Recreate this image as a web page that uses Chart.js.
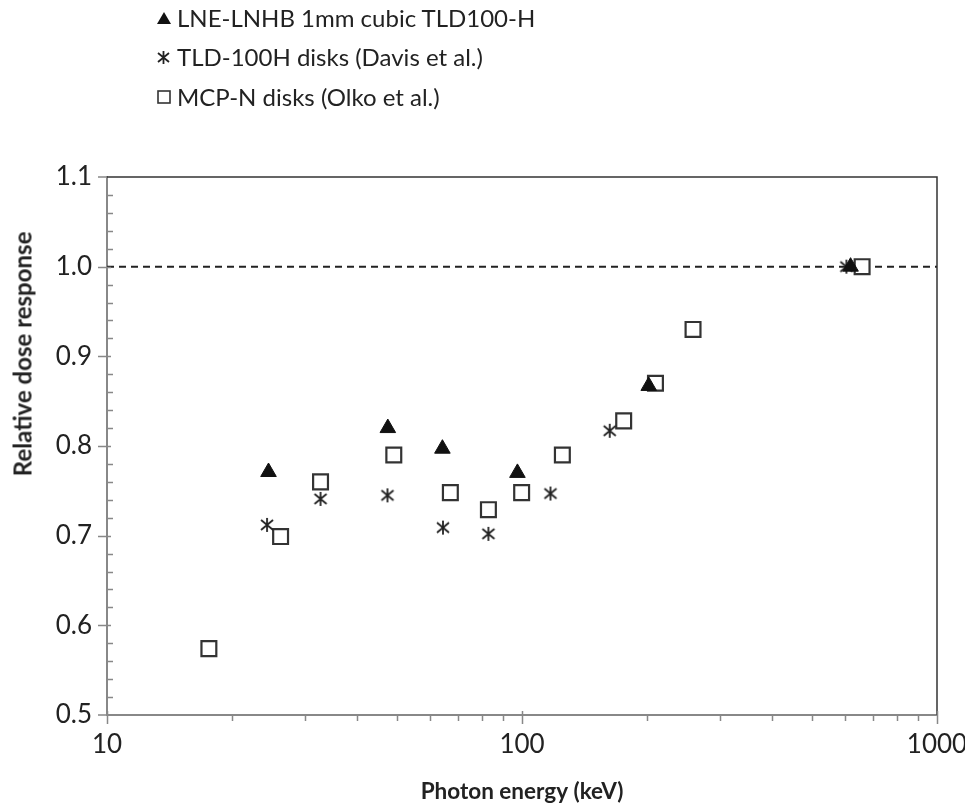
<!DOCTYPE html>
<html>
<head>
<meta charset="utf-8">
<script src="https://cdn.jsdelivr.net/npm/chart.js@4.4.1/dist/chart.umd.min.js"></script>
<style>
  body { margin: 0; background: #fff; }
  #wrap { position: relative; width: 965px; height: 809px; }
  #legend { position: absolute; left: 155px; top: 0; font-family: Lato, sans-serif; font-size: 24px; color: #222; }
  #legend div { position: absolute; white-space: nowrap; height: 28px; line-height: 28px; }
  #legend canvas { position: absolute; left: 0; top: 5px; }
  #legend span { position: absolute; left: 22px; top: 0; }
  #ytitle { position: absolute; left: 22px; top: 354px; width: 0; height: 0; }
  #ytitle span { position: absolute; transform: translate(-50%, -50%) rotate(-90deg); white-space: nowrap;
                 font-family: Lato, sans-serif; font-weight: bold; font-size: 24px; color: #222; }
</style>
</head>
<body>
<div id="wrap">
  <canvas id="dose-chart" width="965" height="809"></canvas>
  <div id="legend"></div>
  <div id="ytitle"><span></span></div>
</div>
<script>
// series (energy in keV, relative response)
let lneEnergy   = [24.5, 47.5, 64.3, 97.5, 202, 619];
let lneResponse = [0.771, 0.820, 0.797, 0.770, 0.867, 1.0];

let davisEnergy   = [24.3, 32.7, 47.4, 64.5, 83.0, 117.1, 162.7, 605];
let davisResponse = [0.712, 0.741, 0.745, 0.709, 0.702, 0.747, 0.817, 1.0];

let olkoEnergy   = [17.6, 26.2, 32.7, 49.1, 67.2, 83.0, 99.8, 125.1, 175.8, 209.7, 258.3, 660];
let olkoResponse = [0.574, 0.699, 0.760, 0.790, 0.748, 0.729, 0.748, 0.790, 0.828, 0.870, 0.930, 1.0];

let seriesNames = ['LNE-LNHB 1mm cubic TLD100-H', 'TLD-100H disks (Davis et al.)', 'MCP-N disks (Olko et al.)'];
let xTitle = 'Photon energy (keV)';
let yTitle = 'Relative dose response';

let xTicks = [10, 100, 1000];
let xMinor = [20, 30, 40, 50, 60, 70, 80, 90, 200, 300, 400, 500, 600, 700, 800, 900];
let yTicks = [0.5, 0.6, 0.7, 0.8, 0.9, 1.0, 1.1];
let refLevel = 1.0;

function pairs(xs, ys) {
	return xs.map(function(x, i) { return { x: x, y: ys[i] }; });
}

// excel style star marker: X plus vertical bar
function starMarker(size) {
	let c = document.createElement('canvas');
	c.width = size; c.height = size;
	let g = c.getContext('2d');
	let m = 2, e = size - 2;
	g.strokeStyle = '#222';
	g.lineWidth = 1.8;
	g.beginPath();
	g.moveTo(m, m + 1); g.lineTo(e, e - 1);
	g.moveTo(e, m + 1); g.lineTo(m, e - 1);
	g.moveTo(size / 2, m - 1); g.lineTo(size / 2, e + 1);
	g.stroke();
	return c;
}
let star = starMarker(16);

// minor ticks + frame
let axisDecor = {
	id: 'axisDecor',
	afterDraw: function(chart) {
		let ctx = chart.ctx;
		let xs = chart.scales.x, ys = chart.scales.y;
		let a = chart.chartArea;
		ctx.save();
		ctx.strokeStyle = '#333';
		ctx.lineWidth = 1.5;
		ctx.beginPath();
		ctx.moveTo(a.left, a.top); ctx.lineTo(a.right, a.top); ctx.lineTo(a.right, a.bottom);
		ctx.stroke();

		ctx.strokeStyle = '#888';
		ctx.lineWidth = 1.5;
		ctx.beginPath();
		for (let v = 0.52; v < 1.1; v += 0.02) {
			let y = Math.round(ys.getPixelForValue(v)) + 0.5;
			let isMajor = Math.abs(v * 10 - Math.round(v * 10)) < 1e-6;
			if (isMajor) { ctx.moveTo(a.left - 9, y); ctx.lineTo(a.left + 4, y); }
			else { ctx.moveTo(a.left, y); ctx.lineTo(a.left + 6, y); }
		}
		ctx.moveTo(a.left - 9, a.bottom); ctx.lineTo(a.left, a.bottom);
		ctx.moveTo(a.left - 9, a.top); ctx.lineTo(a.left, a.top);
		xTicks.forEach(function(v) {
			let x = Math.round(xs.getPixelForValue(v)) + 0.5;
			ctx.moveTo(x, a.bottom - 4); ctx.lineTo(x, a.bottom + 9);
		});
		xMinor.forEach(function(v) {
			let x = Math.round(xs.getPixelForValue(v)) + 0.5;
			ctx.moveTo(x, a.bottom); ctx.lineTo(x, a.bottom + 6);
		});
		ctx.stroke();
		ctx.restore();
	}
};

let ctx = document.querySelector('#dose-chart').getContext('2d');

let doseChart = new Chart(ctx, {
	type: 'scatter',
	data: {
		datasets: [
			{
				label: seriesNames[0],
				data: pairs(lneEnergy, lneResponse),
				pointStyle: 'triangle',
				pointRadius: 9,
				backgroundColor: '#111',
				borderColor: '#111',
				borderWidth: 1,
				order: 1
			},
			{
				label: seriesNames[1],
				data: pairs(davisEnergy, davisResponse),
				pointStyle: star,
				order: 2
			},
			{
				label: seriesNames[2],
				data: pairs(olkoEnergy, olkoResponse),
				pointStyle: 'rect',
				pointRadius: 10.5,
				backgroundColor: '#fff',
				borderColor: '#333',
				borderWidth: 2.2,
				order: 3
			},
			{
				type: 'line',
				label: 'ref',
				data: [{ x: 10, y: refLevel }, { x: 1000, y: refLevel }],
				borderColor: '#222',
				borderWidth: 2,
				borderDash: [7, 5],
				pointRadius: 0,
				order: 10
			}
		]
	},
	options: {
		responsive: false,
		animation: false,
		events: [],
		layout: { padding: { left: 0, right: 28, top: 177, bottom: 0 } },
		plugins: { legend: { display: false }, tooltip: { enabled: false } },
		scales: {
			x: {
				type: 'logarithmic',
				min: 10,
				max: 1000,
				afterBuildTicks: function(scale) { scale.ticks = xTicks.map(function(v) { return { value: v }; }); },
				afterFit: function(scale) { scale.height = 94; scale.paddingRight = 0; scale.paddingLeft = 0; },
				ticks: {
					padding: 14,
					color: '#222',
					font: { family: 'Lato', size: 26 },
					maxRotation: 0,
					autoSkip: false,
					callback: function(v) { return String(v); }
				},
				grid: { display: false, drawTicks: false },
				border: { display: true, color: '#888', width: 2 },
				title: {
					display: true,
					text: xTitle,
					color: '#222',
					font: { family: 'Lato', size: 22.5, weight: 'bold' },
					padding: { top: 4, bottom: 4 }
				}
			},
			y: {
				min: 0.5,
				max: 1.1,
				afterBuildTicks: function(scale) { scale.ticks = yTicks.map(function(v) { return { value: v }; }); },
				afterFit: function(scale) { scale.width = 107; },
				ticks: {
					padding: 15,
					color: '#222',
					font: { family: 'Lato', size: 26 },
					callback: function(v) { return v.toFixed(1); }
				},
				grid: { display: false, drawTicks: false },
				border: { display: true, color: '#888', width: 2 }
			}
		}
	},
	plugins: [axisDecor]
});

document.querySelector('#ytitle span').textContent = yTitle;

// legend built from the datasets
let legendBox = document.querySelector('#legend');
let legendRows = [18, 57, 97];
doseChart.data.datasets.slice(0, 3).forEach(function(ds, i) {
	let row = document.createElement('div');
	row.style.top = (legendRows[i] - 14) + 'px';
	let icon = document.createElement('canvas');
	icon.width = 18; icon.height = 18;
	let g = icon.getContext('2d');
	if (ds.pointStyle === 'triangle') {
		g.fillStyle = '#111';
		g.beginPath(); g.moveTo(9, 3); g.lineTo(16, 15); g.lineTo(2, 15); g.closePath(); g.fill();
	} else if (ds.pointStyle === 'rect') {
		g.strokeStyle = '#333'; g.lineWidth = 1.6;
		g.strokeRect(3, 3, 12, 12);
	} else {
		g.drawImage(starMarker(15), 1, 2);
	}
	let text = document.createElement('span');
	text.textContent = ds.label;
	row.appendChild(icon);
	row.appendChild(text);
	legendBox.appendChild(row);
});
</script>
</body>
</html>
